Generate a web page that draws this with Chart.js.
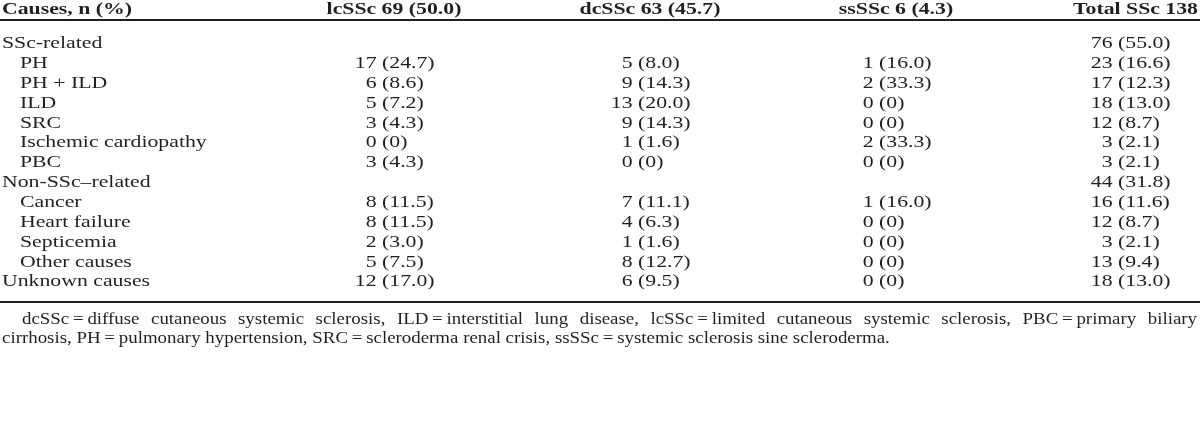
<!DOCTYPE html>
<html>
<head>
<meta charset="utf-8">
<script src="https://cdn.jsdelivr.net/npm/chart.js@4"></script>
<style>
    html, body { margin: 0; padding: 0; background: #ffffff; }
</style>
</head>
<body>
<canvas id="tabelaCausas" width="1200" height="436"></canvas>
<script>
// Cabeçalhos das colunas
const cabecalhos = ['Causes, n (%)', 'lcSSc 69 (50.0)', 'dcSSc 63 (45.7)', 'ssSSc 6 (4.3)', 'Total SSc 138'];

// Linhas da tabela (nivel 0 = grupo, 1 = subitem)
const causas = ['SSc-related', 'PH', 'PH + ILD', 'ILD', 'SRC', 'Ischemic cardiopathy', 'PBC',
    'Non-SSc\u2013related', 'Cancer', 'Heart failure', 'Septicemia', 'Other causes', 'Unknown causes'];
const nivel = [0, 1, 1, 1, 1, 1, 1, 0, 1, 1, 1, 1, 0];

// Valores: n e (%) por coluna
const lcN = [null, 17, 6, 5, 3, 0, 3, null, 8, 8, 2, 5, 12];
const lcPct = [null, '24.7', '8.6', '7.2', '4.3', '0', '4.3', null, '11.5', '11.5', '3.0', '7.5', '17.0'];
const dcN = [null, 5, 9, 13, 9, 1, 0, null, 7, 4, 1, 8, 6];
const dcPct = [null, '8.0', '14.3', '20.0', '14.3', '1.6', '0', null, '11.1', '6.3', '1.6', '12.7', '9.5'];
const ssN = [null, 1, 2, 0, 0, 2, 0, null, 1, 0, 0, 0, 0];
const ssPct = [null, '16.0', '33.3', '0', '0', '33.3', '0', null, '16.0', '0', '0', '0', '0'];
const totalN = [76, 23, 17, 18, 12, 3, 3, 44, 16, 12, 3, 13, 18];
const totalPct = ['55.0', '16.6', '12.3', '13.0', '8.7', '2.1', '2.1', '31.8', '11.6', '8.7', '2.1', '9.4', '13.0'];

// Nota de rodapé
const rodape = [
    'dcSSc\u2009=\u2009diffuse cutaneous systemic sclerosis, ILD\u2009=\u2009interstitial lung disease, lcSSc\u2009=\u2009limited cutaneous systemic sclerosis, PBC\u2009=\u2009primary biliary',
    'cirrhosis, PH\u2009=\u2009pulmonary hypertension, SRC\u2009=\u2009scleroderma renal crisis, ssSSc\u2009=\u2009systemic sclerosis sine scleroderma.'
];

// Layout
const COR = '#231f20';
const FONTE = 'Liberation Serif';
const TAM = 16;
const ESTICA = 1.36;          // esticamento horizontal do texto da tabela
const ESTICA_RODAPE = 1.18;
const ancoras = [0, 382, 638, 879, 1118];  // posição do "(" em cada coluna
const LINHA0 = 44, PASSO = 19.85;         // centro da primeira linha e espaçamento

function texto(ctx, str, x, y, align, bold, sx) {
    ctx.save();
    ctx.font = (bold ? 'bold ' : '') + TAM + 'px "' + FONTE + '"';
    ctx.fillStyle = COR;
    ctx.textBaseline = 'middle';
    ctx.textAlign = align;
    ctx.translate(x, y);
    ctx.scale(sx || ESTICA, 1);
    ctx.fillText(str, 0, 0);
    ctx.restore();
}

function largura(ctx, str, sx) {
    ctx.save();
    ctx.font = TAM + 'px "' + FONTE + '"';
    const w = ctx.measureText(str).width * sx;
    ctx.restore();
    return w;
}

function montarDataset(nome, ns, pcts, col) {
    let pontos = [];
    for (let i = 0; i < ns.length; i++) {
        if (ns[i] === null) continue;
        pontos.push({ x: ancoras[col], y: i, n: ns[i], pct: pcts[i] });
    }
    return { label: nome, data: pontos, pointRadius: 0 };
}

const pluginTabela = {
    id: 'pluginTabela',
    afterDatasetsDraw(chart) {
        const ctx = chart.ctx;
        const y = chart.scales.y;
        const W = chart.width;

        // cabeçalho
        texto(ctx, cabecalhos[0], 2, 10, 'left', true);
        texto(ctx, cabecalhos[1], 394, 10, 'center', true);
        texto(ctx, cabecalhos[2], 650, 10, 'center', true);
        texto(ctx, cabecalhos[3], 896, 10, 'center', true);
        texto(ctx, cabecalhos[4], W - 2, 10, 'right', true);

        // linhas horizontais
        const yFim = Math.round(y.getPixelForValue(causas.length - 1) + 19);
        ctx.save();
        ctx.fillStyle = COR;
        ctx.fillRect(0, 19, W, 2);
        ctx.fillRect(0, yFim, W, 2);
        ctx.restore();

        // rótulos das linhas
        for (let i = 0; i < causas.length; i++) {
            texto(ctx, causas[i], nivel[i] ? 20 : 2, y.getPixelForValue(i), 'left', false);
        }

        // células
        const espaco = largura(ctx, ' ', ESTICA);
        chart.data.datasets.forEach(function (ds, d) {
            const meta = chart.getDatasetMeta(d);
            meta.data.forEach(function (el, k) {
                const p = ds.data[k];
                texto(ctx, String(p.n), el.x - espaco, el.y, 'right', false);
                texto(ctx, '(' + p.pct + ')', el.x, el.y, 'left', false);
            });
        });

        // rodapé: primeira linha justificada
        const palavras = rodape[0].split(' ');
        const larguras = palavras.map(function (w) { return largura(ctx, w, ESTICA_RODAPE); });
        const x0 = 22, x1 = W - 3;
        const soma = larguras.reduce(function (a, b) { return a + b; }, 0);
        const gap = (x1 - x0 - soma) / (palavras.length - 1);
        const yR = yFim + 19;
        let x = x0;
        for (let i = 0; i < palavras.length; i++) {
            texto(ctx, palavras[i], x, yR, 'left', false, ESTICA_RODAPE);
            x += larguras[i] + gap;
        }
        texto(ctx, rodape[1], 2, yR + 18.5, 'left', false, ESTICA_RODAPE);
    }
};

const config = {
    type: 'scatter',
    data: {
        datasets: [
            montarDataset('lcSSc', lcN, lcPct, 1),
            montarDataset('dcSSc', dcN, dcPct, 2),
            montarDataset('ssSSc', ssN, ssPct, 3),
            montarDataset('Total', totalN, totalPct, 4)
        ]
    },
    options: {
        responsive: false,
        animation: false,
        layout: { padding: 0 },
        plugins: { legend: { display: false }, tooltip: { enabled: false } },
        scales: {
            x: { type: 'linear', display: false, min: 0, max: 1200 },
            y: { type: 'linear', display: false, reverse: true, min: -LINHA0 / PASSO, max: (436 - LINHA0) / PASSO }
        }
    },
    plugins: [pluginTabela]
};

let grafico = new Chart(document.getElementById('tabelaCausas'), config);
</script>
</body>
</html>
